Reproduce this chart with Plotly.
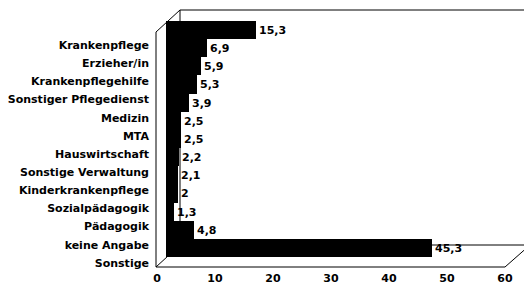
import plotly.graph_objects as go

categories = ["Krankenpflege", "Erzieher/in", "Krankenpflegehilfe", "Sonstiger Pflegedienst",
              "Medizin", "MTA", "Hauswirtschaft", "Sonstige Verwaltung", "Kinderkrankenpflege",
              "Sozialpädagogik", "Pädagogik", "keine Angabe", "Sonstige"]
values = [15.3, 6.9, 5.9, 5.3, 3.9, 2.5, 2.5, 2.2, 2.1, 2, 1.3, 4.8, 45.3]
value_labels = [("%g" % v).replace(".", ",") for v in values]
x_ticks = [0, 10, 20, 30, 40, 50, 60]

W, H = 524, 285
def fx(px): return px / W
def fy(py): return 1 - py / H

FONT = dict(family="DejaVu Sans", size=11, color="black", weight="bold")

fig = go.Figure()
# invisible trace on the front (label) axes
fig.add_trace(go.Scatter(x=values, y=categories, mode="markers",
                         marker=dict(opacity=0), hoverinfo="skip", showlegend=False,
                         xaxis="x", yaxis="y"))
# bars on the shifted (back) axes
fig.add_trace(go.Bar(x=values, y=categories, orientation="h",
                     marker=dict(color="black", line=dict(width=0)),
                     text=value_labels, textposition="outside", cliponaxis=False,
                     textfont=FONT, showlegend=False, hoverinfo="skip",
                     xaxis="x2", yaxis="y2"))

shapes = []
def line(x0, y0, x1, y1):
    shapes.append(dict(type="line", xref="paper", yref="paper", layer="below",
                       x0=fx(x0), y0=fy(y0), x1=fx(x1), y1=fy(y1),
                       line=dict(color="black", width=1)))
line(156, 267, 505, 267)
line(505, 267, 530, 245)
line(180, 245, 530, 245)
line(156, 32, 156, 267)
line(156, 32, 180, 10)
line(180, 10, 530, 10)
line(156, 267, 180, 245)
line(180, 10, 180, 245)

fig.update_layout(
    width=W, height=H, margin=dict(l=0, r=0, t=0, b=0, autoexpand=False),
    paper_bgcolor="white", plot_bgcolor="rgba(0,0,0,0)",
    bargap=0, font=FONT, shapes=shapes,
    xaxis=dict(domain=[fx(157), fx(505)], range=[0, 60], tickvals=x_ticks,
               anchor="free", position=fy(267), showgrid=False, zeroline=False,
               showline=False, ticks="", ticklabelstandoff=3, tickfont=FONT,
               automargin=False),
    yaxis=dict(domain=[fy(272), fy(36)], type="category", categoryarray=categories,
               range=[12.5, -0.5], anchor="x", showgrid=False, zeroline=False,
               showline=False, ticks="", ticklabelstandoff=7, tickfont=FONT,
               automargin=False),
    xaxis2=dict(domain=[fx(166), fx(166 + 60 * 5.87)], range=[0, 60], anchor="y2",
                visible=False, automargin=False),
    yaxis2=dict(domain=[fy(257), fy(21)], type="category", categoryarray=categories,
                range=[12.5, -0.5], anchor="x2", visible=False, automargin=False),
)

fig.write_html("out.html", config={"displayModeBar": False},
               post_script="document.body.style.margin='0';document.body.style.overflow='hidden';")
